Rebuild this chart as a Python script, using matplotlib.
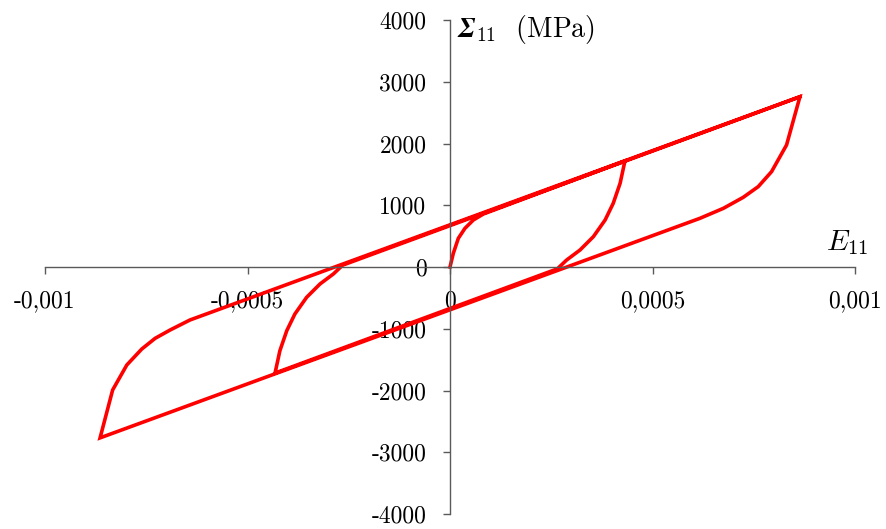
import matplotlib
matplotlib.use("Agg")
import matplotlib.pyplot as plt

# ----------------------------------------------------------
# data (strain E11, stress S11 in MPa)
# ----------------------------------------------------------

# first loading from the origin up to the small peak
load_e = [0.0, 0.0000082, 0.0000206, 0.000037, 0.0000576, 0.0000823, 0.000432]
load_s = [0, 222, 465, 627, 761, 858, 1718]

# small cycle: unloading down to the lower branch and the small valley
unl1_e = [0.00042, 0.000403, 0.000383, 0.000354, 0.000321, 0.000288, 0.000265, -0.000432]
unl1_s = [1355, 1031, 761, 491, 275, 113, -30, -1718]

# small cycle: reloading up to the upper branch and on to the big peak
rel1_e = [-0.00042, -0.000403, -0.000383, -0.000354, -0.000321, -0.000288, -0.000265, 0.000864]
rel1_s = [-1355, -1031, -761, -491, -275, -113, 30, 2757]

# big cycle: unloading to the big valley
unl2_e = [0.000831, 0.000794, 0.000761, 0.000724, 0.000675, 0.000617, -0.000864]
unl2_s = [1976, 1544, 1301, 1128, 950, 788, -2767]

# big cycle: reloading back to the big peak
rel2_e = [-0.000833, -0.000798, -0.000761, -0.000728, -0.000691, -0.000642, 0.000864]
rel2_s = [-1992, -1587, -1328, -1155, -1020, -858, 2757]

x_ticks = [-0.001, -0.0005, 0, 0.0005, 0.001]
x_labels = ["-0,001", "-0,0005", "0", "0,0005", "0,001"]
y_ticks = [-4000, -3000, -2000, -1000, 0, 1000, 2000, 3000, 4000]
y_labels = [str(v) for v in y_ticks]

strain = load_e + unl1_e + rel1_e + unl2_e + rel2_e
stress = load_s + unl1_s + rel1_s + unl2_s + rel2_s

# ----------------------------------------------------------
# plot
# ----------------------------------------------------------

plt.rcParams["font.family"] = "serif"
plt.rcParams["font.serif"] = ["cmr10", "DejaVu Serif"]
plt.rcParams["mathtext.fontset"] = "cm"

AXIS_COLOR = "#5a5a5a"
H = 529

fig = plt.figure(figsize=(8.86, 5.29), dpi=100)
ax = fig.add_axes([45 / 886, 15 / H, 810 / 886, 494 / H])

ax.plot(strain, stress, color="#ff0000", lw=2.6, solid_joinstyle="miter")

ax.set_xlim(-0.001, 0.001)
ax.set_ylim(-4000, 4000)

for side in ["top", "right"]:
    ax.spines[side].set_visible(False)
for side in ["left", "bottom"]:
    ax.spines[side].set_position(("data", 0))
    ax.spines[side].set_color(AXIS_COLOR)
    ax.spines[side].set_linewidth(1.0)

ax.set_xticks(x_ticks)
ax.set_xticklabels(x_labels)
ax.set_yticks(y_ticks)
ax.set_yticklabels(y_labels)

ax.tick_params(axis="x", direction="out", length=5, width=1.0,
               color=AXIS_COLOR, labelsize=17, pad=12)
ax.tick_params(axis="y", direction="out", length=5, width=1.0,
               color=AXIS_COLOR, labelsize=17, pad=12)

# axis titles placed in pixel coordinates (origin bottom-left)
ax.text(457, H - 30, r"$\mathbfit{\Sigma}_{\mathbf{11}}$  (MPa)",
        transform=None, fontsize=20, va="center", ha="left")
ax.text(826, H - 243, r"$E_{11}$", transform=None, fontsize=21,
        va="center", ha="left")

fig.savefig("out.png", dpi=100)
